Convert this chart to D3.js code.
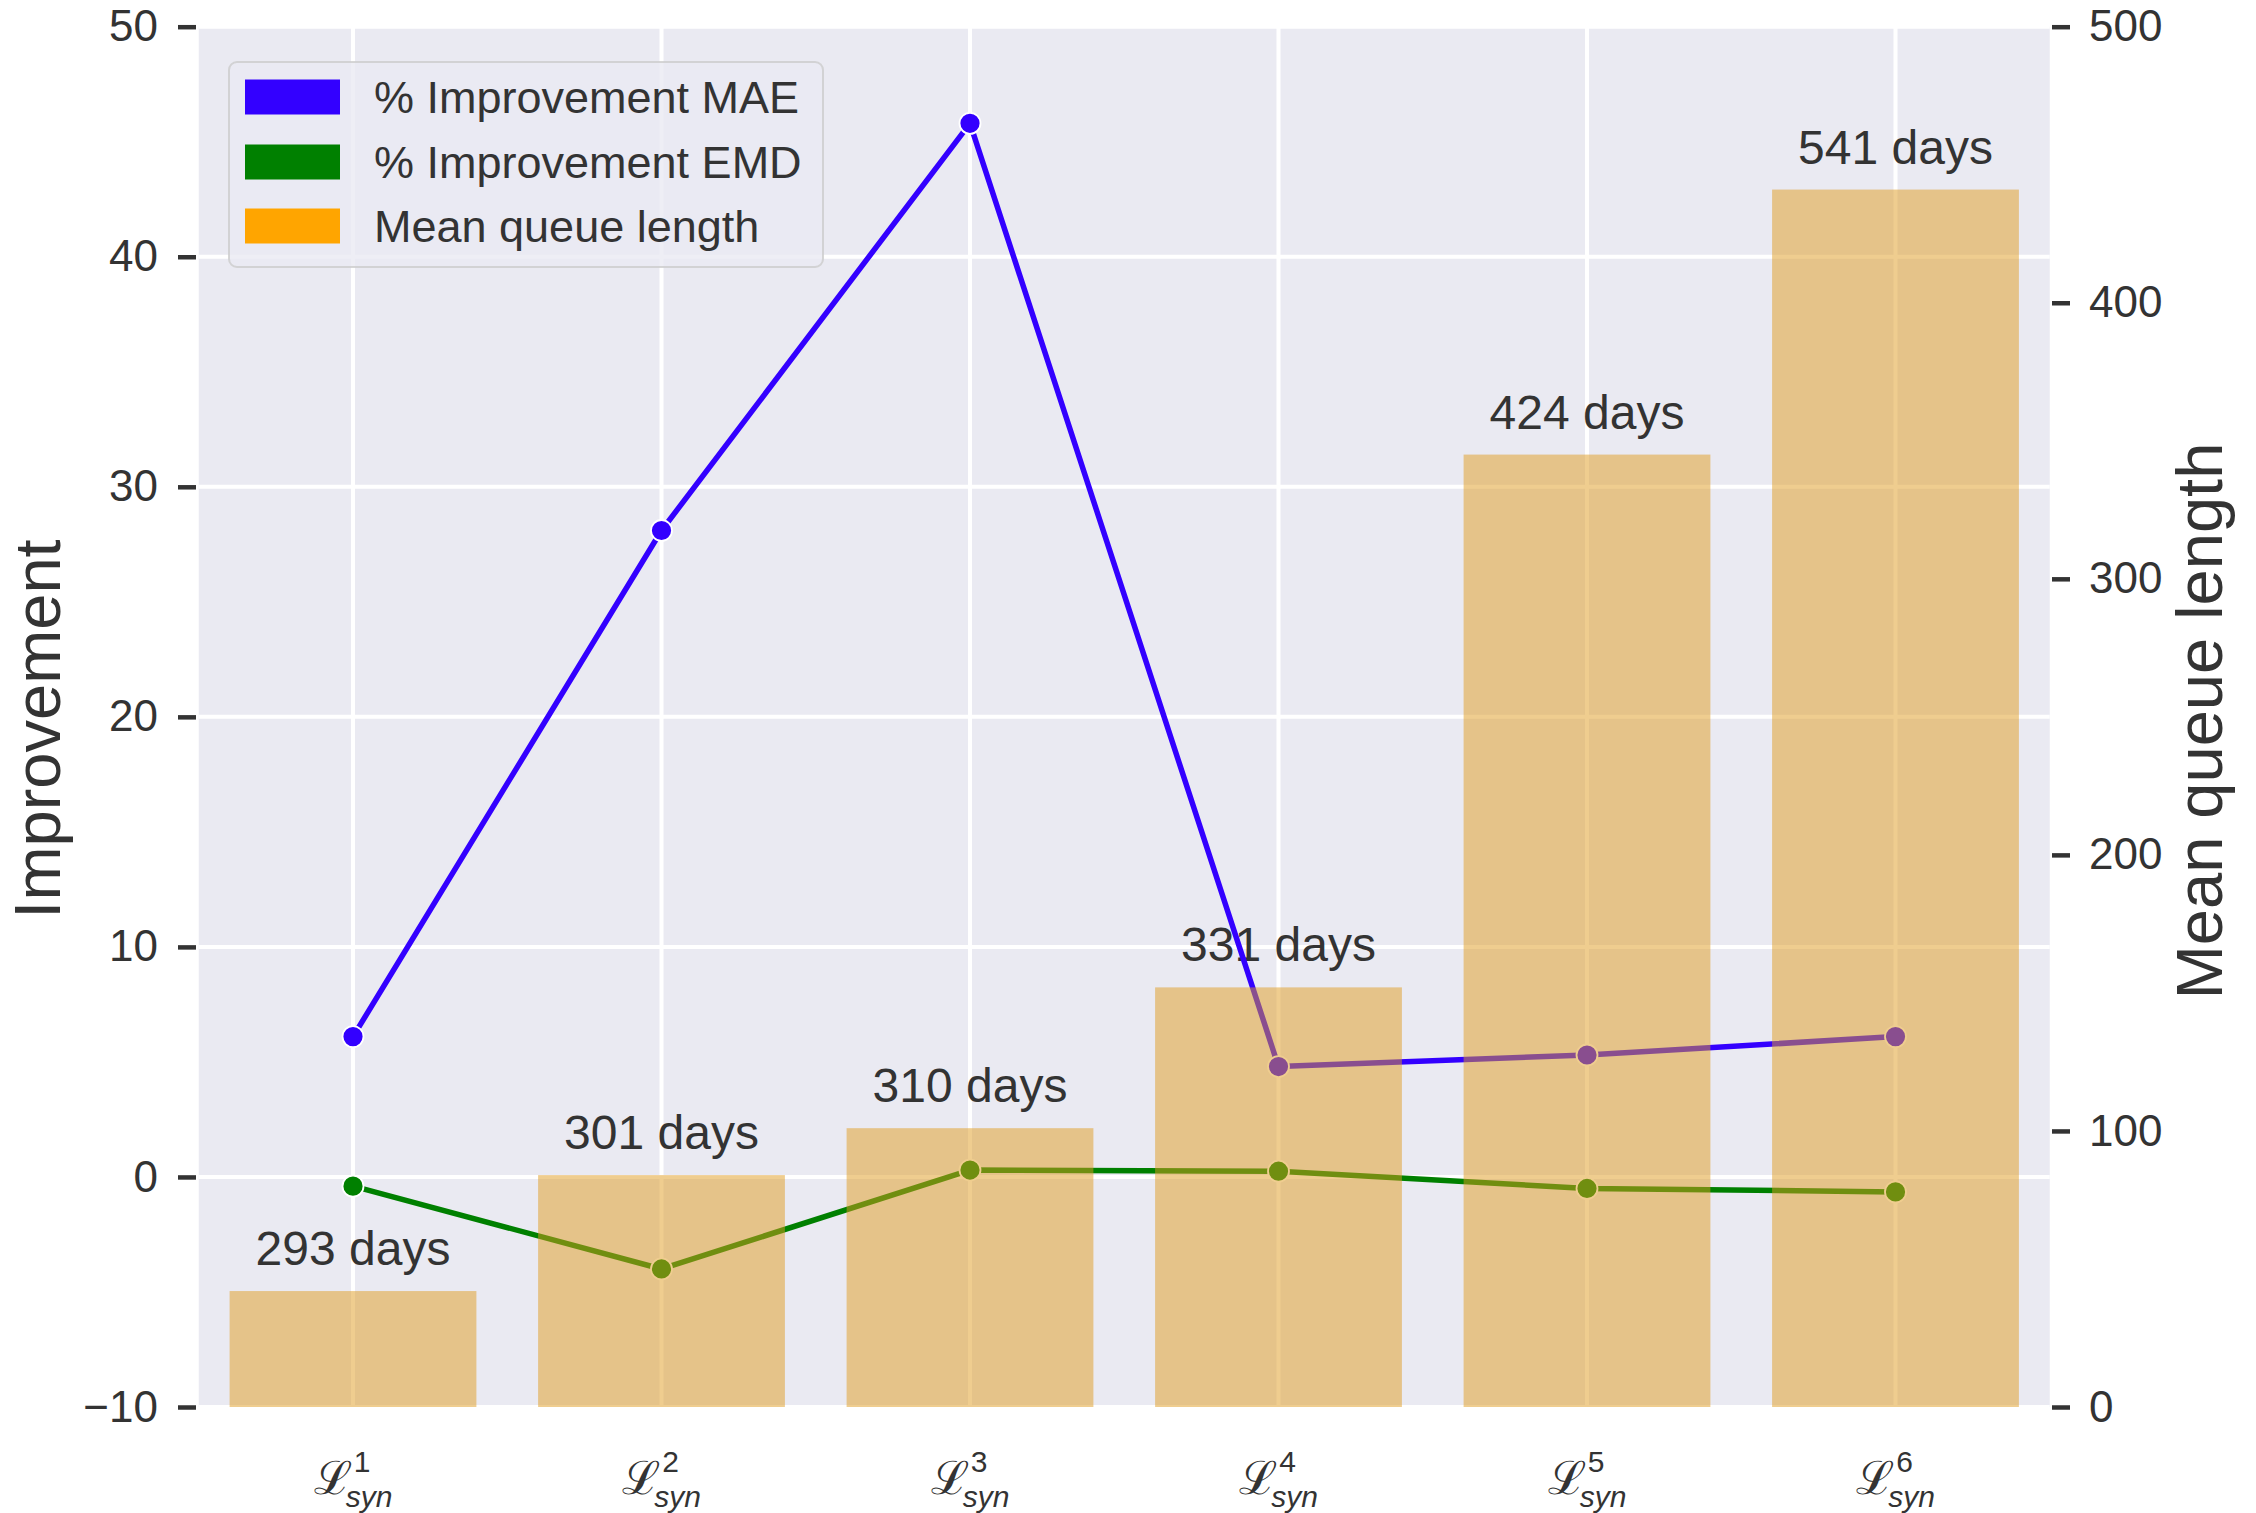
<!DOCTYPE html>
<html>
<head>
<meta charset="utf-8">
<script src="https://cdn.jsdelivr.net/npm/d3@7/dist/d3.min.js"></script>
<style>
  html, body { margin: 0; padding: 0; background: #ffffff; }
  svg { display: block; }
  text { font-family: "Liberation Sans", Arial, Helvetica, sans-serif; fill: #333333; }
</style>
</head>
<body>
<svg id="chart" width="2256" height="1513"></svg>
<script>
// Synthetic loss variants on the x axis (superscript index of L_syn)
const categories = ["1", "2", "3", "4", "5", "6"];
// Left axis series (percent improvement)
const maeImprovement = [6.1, 28.1, 45.8, 4.8, 5.3, 6.1];
const emdImprovement = [-0.4, -4.0, 0.3, 0.25, -0.5, -0.65];
// Right axis bars
const meanQueueLength = [42, 84, 101, 152, 345, 441];
// Annotation above each bar
const meanDays = [293, 301, 310, 331, 424, 541];
// Tick values
const leftTicks = [-10, 0, 10, 20, 30, 40, 50];
const rightTicks = [0, 100, 200, 300, 400, 500];
// Legend entries
const legendLabels = ["% Improvement MAE", "% Improvement EMD", "Mean queue length"];
const legendColors = ["#3300ff", "#008000", "#ffa500"];

const maeColor = "#3300ff";
const emdColor = "#008000";
const barColor = "rgb(223,156,32)";

const L = 198.75, R = 2049.75, T = 26.7, B = 1407;

const svg = d3.select("#chart");

const x = d3.scaleBand().domain(categories).range([L, R]).paddingInner(0.2).paddingOuter(0.1);
const xc = d => x(d) + x.bandwidth() / 2;
const yL = d3.scaleLinear().domain([-10, 50]).range([B, T]);
const yR = d3.scaleLinear().domain([0, 500]).range([B, T]);

// plot background
svg.append("rect").attr("x", L).attr("y", T).attr("width", R - L).attr("height", B - T).attr("fill", "#eaeaf2");

// grid
const grid = svg.append("g").attr("stroke", "#ffffff").attr("stroke-width", 4);
grid.selectAll("line.h").data(leftTicks).join("line")
  .attr("class", "h").attr("x1", L).attr("x2", R)
  .attr("y1", d => yL(d)).attr("y2", d => yL(d));
grid.selectAll("line.v").data(categories).join("line")
  .attr("class", "v").attr("y1", T).attr("y2", B)
  .attr("x1", d => xc(d)).attr("x2", d => xc(d));

// day annotations above bars
svg.append("g").selectAll("text").data(categories).join("text")
  .attr("x", d => xc(d))
  .attr("y", (d, i) => yR(meanQueueLength[i]) - 26)
  .attr("text-anchor", "middle")
  .attr("font-size", 48)
  .text((d, i) => meanDays[i] + " days");

// lines with markers
function drawSeries(values, color) {
  const line = d3.line().x((d, i) => xc(categories[i])).y(d => yL(d));
  svg.append("path").datum(values)
    .attr("d", line).attr("fill", "none")
    .attr("stroke", color).attr("stroke-width", 5.5)
    .attr("stroke-linejoin", "round").attr("stroke-linecap", "round");
  svg.append("g").selectAll("circle").data(values).join("circle")
    .attr("cx", (d, i) => xc(categories[i]))
    .attr("cy", d => yL(d))
    .attr("r", 10.5)
    .attr("fill", color)
    .attr("stroke", "#ffffff").attr("stroke-width", 1.8);
}
drawSeries(maeImprovement, maeColor);
drawSeries(emdImprovement, emdColor);

// bars on the secondary axis, semi-transparent over the lines
svg.append("g").selectAll("rect").data(categories).join("rect")
  .attr("x", d => x(d))
  .attr("width", x.bandwidth())
  .attr("y", (d, i) => yR(meanQueueLength[i]))
  .attr("height", (d, i) => B - yR(meanQueueLength[i]))
  .attr("fill", barColor)
  .attr("fill-opacity", 0.5);

// axes
const axLeft = svg.append("g").attr("transform", `translate(196,0)`)
  .call(d3.axisLeft(yL).tickValues(leftTicks).tickSize(18).tickPadding(20));
const axRight = svg.append("g").attr("transform", `translate(2052,0)`)
  .call(d3.axisRight(yR).tickValues(rightTicks).tickSize(18).tickPadding(19));
[axLeft, axRight].forEach(ax => {
  ax.select(".domain").remove();
  ax.selectAll(".tick line").attr("stroke", "#333333").attr("stroke-width", 4.5);
  ax.selectAll(".tick text").attr("font-size", 44).attr("fill", "#333333")
    .attr("font-family", "'Liberation Sans', Arial, sans-serif");
});

// x tick labels: script L with superscript index and subscript "syn"
const xLab = svg.append("g");
categories.forEach(c => {
  const cx = xc(c);
  const t = xLab.append("text").attr("x", cx).attr("y", 1494)
    .attr("font-family", "'DejaVu Sans', sans-serif");
  t.append("tspan").attr("font-size", 46).text("\u2112");
  const sup = t.append("tspan").attr("font-size", 30).attr("dx", 2).attr("dy", -22).text(c);
  const supW = sup.node().getComputedTextLength();
  t.append("tspan").attr("font-size", 30).attr("font-style", "italic")
    .attr("dx", -supW - 8).attr("dy", 35).text("syn");
  const bb = t.node().getBBox();
  t.attr("x", cx - (bb.x + bb.width / 2 - cx));
});

// axis titles
svg.append("text")
  .attr("transform", `translate(60,729) rotate(-90)`)
  .attr("text-anchor", "middle").attr("font-size", 65)
  .text("Improvement");
svg.append("text")
  .attr("transform", `translate(2222,721) rotate(-90)`)
  .attr("text-anchor", "middle").attr("font-size", 65)
  .text("Mean queue length");

// legend
const lg = svg.append("g");
lg.append("rect").attr("x", 229).attr("y", 62).attr("width", 594).attr("height", 205)
  .attr("rx", 8).attr("fill", "#eaeaf2").attr("fill-opacity", 0.8)
  .attr("stroke", "#cccccc").attr("stroke-opacity", 0.8).attr("stroke-width", 2);
const legendY = [97, 162, 226];
legendLabels.forEach((lab, i) => {
  lg.append("rect").attr("x", 245).attr("y", legendY[i] - 17.5)
    .attr("width", 95).attr("height", 35).attr("fill", legendColors[i]);
  lg.append("text").attr("x", 374).attr("y", legendY[i]).attr("dy", "0.35em")
    .attr("font-size", 45).text(lab);
});
</script>
</body>
</html>
